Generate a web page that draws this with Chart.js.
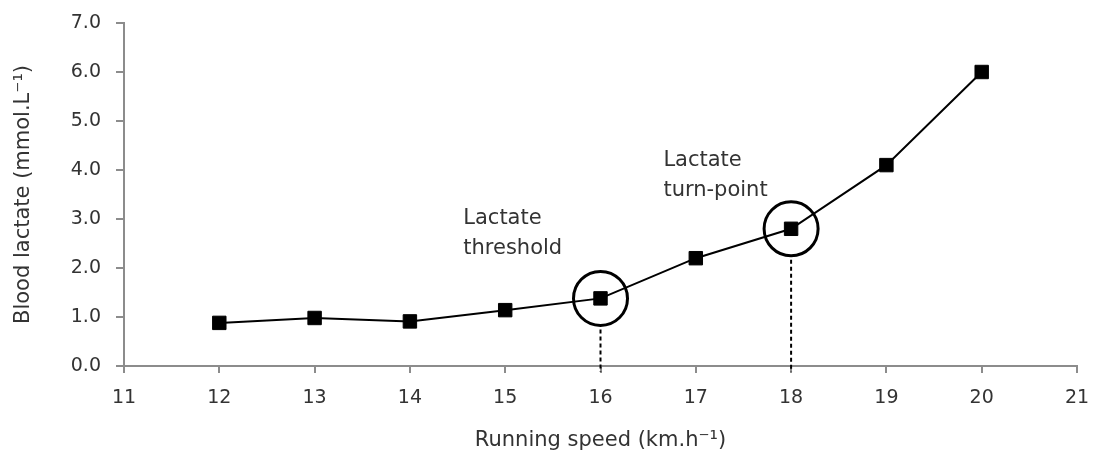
<!DOCTYPE html>
<html>
<head>
<meta charset="utf-8">
<script src="https://cdn.jsdelivr.net/npm/chart.js@4.4.1/dist/chart.umd.min.js"></script>
<style>
  html, body { margin: 0; padding: 0; background: #ffffff; }
  #wrap { width: 1100px; height: 456px; position: relative; }
</style>
</head>
<body>
<div id="wrap"><canvas id="c" width="1100" height="456"></canvas></div>
<script>
// ---- Data ----
const speeds = [12, 13, 14, 15, 16, 17, 18, 19, 20];
const lactate = [0.88, 0.98, 0.91, 1.14, 1.38, 2.2, 2.8, 4.1, 6.0];
const xTicks = [11, 12, 13, 14, 15, 16, 17, 18, 19, 20, 21];
const yTicks = [0, 1, 2, 3, 4, 5, 6, 7];
const markedSpeeds = [16, 18];
const annotationLines = [["Lactate", "threshold"], ["Lactate", "turn-point"]];
const annotationAnchors = [[14.56, 2.90], [16.66, 4.08]]; // data coords of first-line baseline

const FONT = "'DejaVu Sans', sans-serif";
const TEXT = '#333333';
const AXIS = '#8c8c8c';

const points = speeds.map((s, i) => ({ x: s, y: lactate[i] }));

const annotPlugin = {
  id: 'annot',
  afterDatasetsDraw(chart) {
    const ctx = chart.ctx;
    const xs = chart.scales.x, ys = chart.scales.y;
    ctx.save();
    markedSpeeds.forEach((s) => {
      const idx = speeds.indexOf(s);
      const px = xs.getPixelForValue(s);
      const py = ys.getPixelForValue(lactate[idx]);
      const r = 27;
      ctx.beginPath();
      ctx.arc(px, py, r, 0, Math.PI * 2);
      ctx.lineWidth = 3;
      ctx.strokeStyle = '#000';
      ctx.stroke();
      ctx.beginPath();
      ctx.setLineDash([4, 3]);
      ctx.lineWidth = 2;
      ctx.moveTo(px, py + r + 4);
      ctx.lineTo(px, ys.getPixelForValue(0) + 6);
      ctx.stroke();
      ctx.setLineDash([]);
    });
    ctx.fillStyle = TEXT;
    ctx.font = "21px " + FONT;
    ctx.textAlign = 'left';
    ctx.textBaseline = 'alphabetic';
    annotationLines.forEach((lines, i) => {
      const ax = xs.getPixelForValue(annotationAnchors[i][0]);
      const ay = ys.getPixelForValue(annotationAnchors[i][1]);
      lines.forEach((t, j) => ctx.fillText(t, ax, ay + j * 30));
    });
    ctx.restore();
  }
};

new Chart(document.getElementById('c'), {
  type: 'scatter',
  data: {
    datasets: [{
      data: points,
      showLine: true,
      borderColor: '#000',
      borderWidth: 2,
      pointStyle: 'rect',
      pointRadius: 9.5,
      pointHoverRadius: 9.5,
      pointBackgroundColor: '#000',
      pointBorderColor: '#000',
      pointBorderWidth: 1,
      tension: 0
    }]
  },
  options: {
    responsive: false,
    animation: false,
    events: [],
    layout: { padding: { left: 0, right: 23, top: 23, bottom: 0 } },
    plugins: { legend: { display: false }, tooltip: { enabled: false } },
    scales: {
      x: {
        type: 'linear',
        min: 11, max: 21,
        afterBuildTicks: (sc) => { sc.ticks = xTicks.map(v => ({ value: v })); },
        afterFit: (sc) => { sc.height = 90; sc.paddingLeft = 0; sc.paddingRight = 0; },
        ticks: { color: TEXT, font: { family: FONT, size: 19 }, padding: 14, callback: (v) => String(v) },
        grid: { display: true, drawOnChartArea: false, drawTicks: true, tickLength: 7, color: AXIS, lineWidth: 2 },
        border: { display: true, color: AXIS, width: 2 },
        title: { display: true, text: 'Running speed (km.h\u207B\u00B9)', color: TEXT, font: { family: FONT, size: 21 }, padding: { top: 0, bottom: 3 } }
      },
      y: {
        min: 0, max: 7,
        afterBuildTicks: (sc) => { sc.ticks = yTicks.map(v => ({ value: v })); },
        afterFit: (sc) => { sc.width = 124; sc.paddingTop = 0; sc.paddingBottom = 0; },
        ticks: { color: TEXT, font: { family: FONT, size: 19 }, padding: 15, callback: (v) => Number(v).toFixed(1) },
        grid: { display: true, drawOnChartArea: false, drawTicks: true, tickLength: 8, color: AXIS, lineWidth: 2 },
        border: { display: true, color: AXIS, width: 2 },
        title: { display: true, text: 'Blood lactate (mmol.L\u207B\u00B9)', color: TEXT, font: { family: FONT, size: 21 }, padding: { top: 11, bottom: 0 } }
      }
    }
  },
  plugins: [annotPlugin]
});
</script>
</body>
</html>
